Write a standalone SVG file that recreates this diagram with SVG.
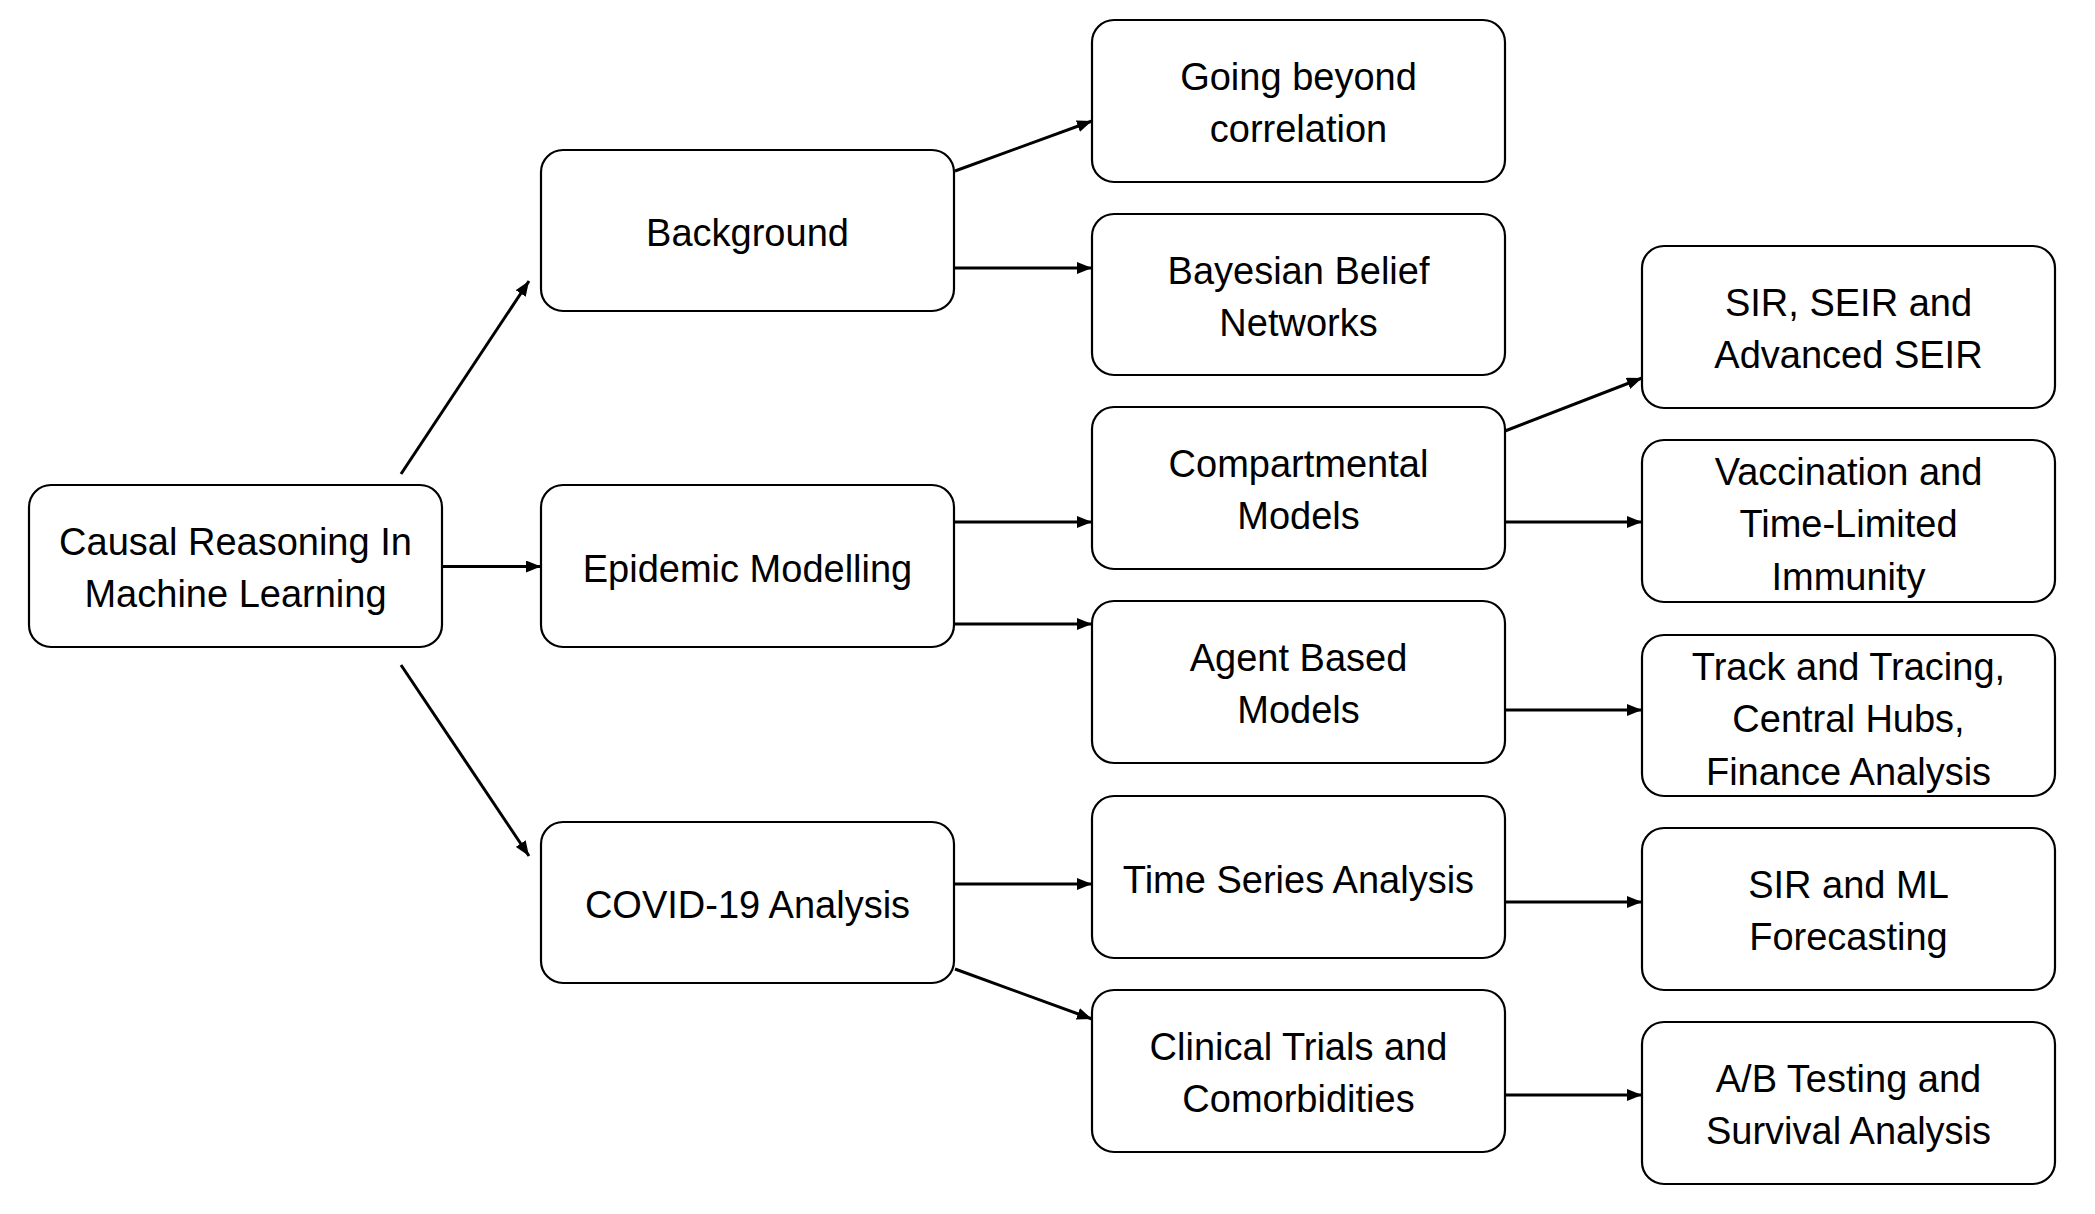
<svg xmlns="http://www.w3.org/2000/svg" width="2095" height="1214" viewBox="0 0 2095 1214">
<style>
.box{fill:#fff;stroke:#000;stroke-width:2.2}
.t{font-family:"Liberation Sans",Arial,sans-serif;font-size:38px;fill:#000;text-anchor:middle}
.c{stroke:#000;stroke-width:3;fill:none;marker-end:url(#ah)}
</style>
<defs>
<marker id="ah" markerUnits="userSpaceOnUse" markerWidth="15" markerHeight="12" refX="15" refY="6" orient="auto">
<path d="M0,0 L15,6 L0,12 z" fill="#000"/>
</marker>
</defs>
<rect width="2095" height="1214" fill="#fff"/>
<g id="connectors">
<line class="c" x1="401" y1="474" x2="529" y2="281"/>
<line class="c" x1="443" y1="566.5" x2="541" y2="566.5"/>
<line class="c" x1="401" y1="665" x2="529" y2="856"/>
<line class="c" x1="955" y1="171" x2="1092" y2="121"/>
<line class="c" x1="955" y1="268" x2="1092" y2="268"/>
<line class="c" x1="955" y1="522" x2="1092" y2="522"/>
<line class="c" x1="955" y1="624" x2="1092" y2="624"/>
<line class="c" x1="955" y1="884" x2="1092" y2="884"/>
<line class="c" x1="955" y1="969" x2="1092" y2="1019"/>
<line class="c" x1="1505" y1="431" x2="1642" y2="378"/>
<line class="c" x1="1505" y1="522" x2="1642" y2="522"/>
<line class="c" x1="1505" y1="710" x2="1642" y2="710"/>
<line class="c" x1="1505" y1="902" x2="1642" y2="902"/>
<line class="c" x1="1505" y1="1095" x2="1642" y2="1095"/>
</g>
<g id="root">
<rect class="box" x="29" y="485" width="413" height="162" rx="22"/>
<text class="t" x="235.5" y="555">Causal Reasoning In</text>
<text class="t" x="235.5" y="607">Machine Learning</text>
</g>
<g id="background">
<rect class="box" x="541" y="150" width="413" height="161" rx="22"/>
<text class="t" x="747.5" y="246">Background</text>
</g>
<g id="epidemic">
<rect class="box" x="541" y="485" width="413" height="162" rx="22"/>
<text class="t" x="747.5" y="582">Epidemic Modelling</text>
</g>
<g id="covid">
<rect class="box" x="541" y="822" width="413" height="161" rx="22"/>
<text class="t" x="747.5" y="918">COVID-19 Analysis</text>
</g>
<g id="going">
<rect class="box" x="1092" y="20" width="413" height="162" rx="22"/>
<text class="t" x="1298.5" y="90">Going beyond</text>
<text class="t" x="1298.5" y="142">correlation</text>
</g>
<g id="bayesian">
<rect class="box" x="1092" y="214" width="413" height="161" rx="22"/>
<text class="t" x="1298.5" y="284">Bayesian Belief</text>
<text class="t" x="1298.5" y="336">Networks</text>
</g>
<g id="compartmental">
<rect class="box" x="1092" y="407" width="413" height="162" rx="22"/>
<text class="t" x="1298.5" y="477">Compartmental</text>
<text class="t" x="1298.5" y="529">Models</text>
</g>
<g id="agent">
<rect class="box" x="1092" y="601" width="413" height="162" rx="22"/>
<text class="t" x="1298.5" y="671">Agent Based</text>
<text class="t" x="1298.5" y="723">Models</text>
</g>
<g id="timeseries">
<rect class="box" x="1092" y="796" width="413" height="162" rx="22"/>
<text class="t" x="1298.5" y="893">Time Series Analysis</text>
</g>
<g id="clinical">
<rect class="box" x="1092" y="990" width="413" height="162" rx="22"/>
<text class="t" x="1298.5" y="1060">Clinical Trials and</text>
<text class="t" x="1298.5" y="1112">Comorbidities</text>
</g>
<g id="sir">
<rect class="box" x="1642" y="246" width="413" height="162" rx="22"/>
<text class="t" x="1848.5" y="316">SIR, SEIR and</text>
<text class="t" x="1848.5" y="368">Advanced SEIR</text>
</g>
<g id="vaccination">
<rect class="box" x="1642" y="440" width="413" height="162" rx="22"/>
<text class="t" x="1848.5" y="485">Vaccination and</text>
<text class="t" x="1848.5" y="537">Time-Limited</text>
<text class="t" x="1848.5" y="590">Immunity</text>
</g>
<g id="track">
<rect class="box" x="1642" y="635" width="413" height="161" rx="22"/>
<text class="t" x="1848.5" y="680">Track and Tracing,</text>
<text class="t" x="1848.5" y="732">Central Hubs,</text>
<text class="t" x="1848.5" y="785">Finance Analysis</text>
</g>
<g id="sirml">
<rect class="box" x="1642" y="828" width="413" height="162" rx="22"/>
<text class="t" x="1848.5" y="898">SIR and ML</text>
<text class="t" x="1848.5" y="950">Forecasting</text>
</g>
<g id="abtesting">
<rect class="box" x="1642" y="1022" width="413" height="162" rx="22"/>
<text class="t" x="1848.5" y="1092">A/B Testing and</text>
<text class="t" x="1848.5" y="1144">Survival Analysis</text>
</g>
</svg>
